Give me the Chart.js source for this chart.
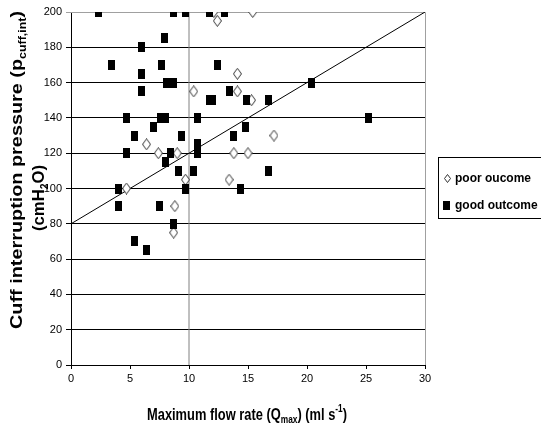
<!DOCTYPE html>
<html>
<head>
<meta charset="utf-8">
<script src="https://cdn.jsdelivr.net/npm/chart.js@4.4.1/dist/chart.umd.min.js"></script>
<style>
html,body{margin:0;padding:0;background:#fff;}
</style>
</head>
<body>
<canvas id="myCanvas" width="541" height="432"></canvas>
<script>
'use strict';

// good outcome (filled squares)
const goodX = [2.3, 8.7, 9.7, 11.7, 13.0, 7.9, 6.0, 3.4, 7.7, 12.4, 6.0, 8.1, 8.7, 20.4, 6.0, 13.4,
	11.7, 12.0, 14.9, 16.7, 4.7, 7.6, 8.0, 10.7, 25.2, 7.0, 14.8, 5.4, 9.4, 13.8, 10.7, 4.7,
	8.4, 10.7, 8.0, 9.1, 10.4, 16.7, 4.0, 9.7, 14.4, 4.0, 7.5, 8.7, 5.4, 6.4];
const goodY = [200, 200, 200, 200, 200, 185, 180, 170, 170, 170, 165, 160, 160, 160, 155, 155,
	150, 150, 150, 150, 140, 140, 140, 140, 140, 135, 135, 130, 130, 130, 125, 120,
	120, 120, 115, 110, 110, 110, 100, 100, 100, 90, 90, 80, 70, 65];

// poor outcome (open diamonds)
const poorX = [12.1, 15.4, 12.4, 14.1, 10.4, 14.1, 15.3, 6.4, 7.4, 9.0, 13.8, 15.0, 17.2, 9.7, 13.4, 4.7, 8.8, 8.7];
const poorY = [200, 200, 195, 165, 155, 155, 150, 125, 120, 120, 120, 120, 130, 105, 105, 100, 90, 75];

const trendX = [0, 30];
const trendY = [80, 200];
const refX = [10, 10];
const refY = [0, 200];

const xTicks = [0, 5, 10, 15, 20, 25, 30];
const yTicks = [0, 20, 40, 60, 80, 100, 120, 140, 160, 180, 200];
const legendLabels = ['poor oucome', 'good outcome'];

function pts(xs, ys){
	return xs.map(function(x, i){ return {x: x, y: ys[i]}; });
}

function makeSquare(w, h){
	let c = document.createElement('canvas');
	c.width = w; c.height = h;
	let g = c.getContext('2d');
	g.fillStyle = '#000';
	g.fillRect(0, 0, w, h);
	return c;
}

function makeDiamond(w, h){
	let c = document.createElement('canvas');
	c.width = w; c.height = h;
	let g = c.getContext('2d');
	g.beginPath();
	g.moveTo(w/2, 0.5);
	g.lineTo(w-0.5, h/2);
	g.lineTo(w/2, h-0.5);
	g.lineTo(0.5, h/2);
	g.closePath();
	g.fillStyle = '#fff';
	g.fill();
	g.strokeStyle = '#333';
	g.lineWidth = 1;
	g.stroke();
	return c;
}

const sq = makeSquare(7, 10);
const dia = makeDiamond(9, 12);

// text with sub/superscripts, stretched to a given width
function richText(ctx, parts, size, family, target){
	let w = 0;
	parts.forEach(function(p){
		ctx.font = 'bold ' + (p.s ? Math.round(size*0.65) : size) + 'px ' + family;
		p.w = ctx.measureText(p.t).width;
		w += p.w;
	});
	let k = target / w;
	ctx.save();
	ctx.scale(k, 1);
	let x = -w/2;
	ctx.textBaseline = 'middle';
	ctx.textAlign = 'left';
	parts.forEach(function(p){
		ctx.font = 'bold ' + (p.s ? Math.round(size*0.65) : size) + 'px ' + family;
		let dy = p.s === 'sub' ? size*0.3 : (p.s === 'sup' ? -size*0.35 : 0);
		ctx.fillText(p.t, x, dy);
		x += p.w;
	});
	ctx.restore();
}

const extras = {
	id: 'extras',
	beforeDatasetsDraw: function(chart){
		let ctx = chart.ctx, a = chart.chartArea;
		ctx.save();
		ctx.strokeStyle = '#a0a0a0';
		ctx.lineWidth = 1;
		ctx.beginPath();
		ctx.moveTo(a.left, Math.round(a.top) + 0.5);
		ctx.lineTo(Math.round(a.right) + 0.5, Math.round(a.top) + 0.5);
		ctx.lineTo(Math.round(a.right) + 0.5, a.bottom);
		ctx.stroke();
		ctx.restore();
	},
	afterDraw: function(chart){
		let ctx = chart.ctx;
		ctx.save();
		ctx.fillStyle = '#000';
		// y title
		ctx.save();
		ctx.translate(18, 170);
		ctx.rotate(-Math.PI/2);
		richText(ctx, [{t: 'Cuff interruption pressure (p'}, {t: 'cuff,int', s: 'sub'}, {t: ')'}], 16, '"Liberation Sans", Arial, sans-serif', 318);
		ctx.restore();
		ctx.save();
		ctx.translate(40, 198);
		ctx.rotate(-Math.PI/2);
		richText(ctx, [{t: '(cmH'}, {t: '2', s: 'sub'}, {t: 'O)'}], 16, '"Liberation Sans", Arial, sans-serif', 66);
		ctx.restore();
		// x title
		ctx.save();
		ctx.translate(247, 415);
		richText(ctx, [{t: 'Maximum flow rate (Q'}, {t: 'max', s: 'sub'}, {t: ') (ml s'}, {t: '-1', s: 'sup'}, {t: ')'}], 17, '"Liberation Sans Narrow", "Arial Narrow", "Liberation Sans", sans-serif', 200);
		ctx.restore();
		// legend
		ctx.strokeStyle = '#000';
		ctx.lineWidth = 1;
		ctx.strokeRect(438.5, 157.5, 110, 61);
		let d = makeDiamond(7, 9);
		ctx.drawImage(d, 444, 174);
		ctx.fillRect(443, 201, 7, 9);
		ctx.font = 'bold 12px "Liberation Sans", Arial, sans-serif';
		ctx.textBaseline = 'middle';
		ctx.textAlign = 'left';
		ctx.fillText(legendLabels[0], 455, 179);
		ctx.fillText(legendLabels[1], 455, 206);
		ctx.restore();
	}
};

let tickFont = {family: '"Liberation Sans Narrow", "Arial Narrow", "Liberation Sans", sans-serif', size: 11};

let myChart = document.getElementById('myCanvas').getContext('2d');
let myScatter = new Chart(myChart, {
	type: 'scatter',
	data: {
		datasets: [{
			label: legendLabels[1],
			data: pts(goodX, goodY),
			pointStyle: sq,
			pointRadius: 5,
			order: 0
		}, {
			label: legendLabels[0],
			data: pts(poorX, poorY),
			pointStyle: dia,
			pointRadius: 5,
			order: 1
		}, {
			label: 'trend',
			data: pts(trendX, trendY),
			showLine: true,
			borderColor: '#000',
			borderWidth: 1,
			pointRadius: 0,
			order: 2
		}, {
			label: 'ref',
			data: pts(refX, refY),
			showLine: true,
			borderColor: '#808080',
			borderWidth: 1,
			pointRadius: 0,
			order: 3
		}]
	},
	plugins: [extras],
	options: {
		responsive: false,
		animation: false,
		events: [],
		layout: {padding: {top: 12, right: 116, left: 0, bottom: 0}},
		plugins: {legend: {display: false}, tooltip: {enabled: false}},
		scales: {
			x: {
				type: 'linear', min: 0, max: 30,
				afterBuildTicks: function(s){ s.ticks = xTicks.map(function(v){ return {value: v}; }); },
				afterFit: function(s){ s.height = 67; },
				ticks: {color: '#000', font: tickFont, padding: 3, maxRotation: 0},
				grid: {drawOnChartArea: false, drawTicks: true, tickLength: 4, color: '#000'},
				border: {color: '#000'}
			},
			y: {
				min: 0, max: 200,
				afterBuildTicks: function(s){ s.ticks = yTicks.map(function(v){ return {value: v}; }); },
				afterFit: function(s){ s.width = 71; },
				ticks: {color: '#000', font: tickFont, padding: 4},
				grid: {tickLength: 5, color: function(c){ return c.tick && c.tick.value === 200 ? '#a0a0a0' : '#000'; }},
				border: {color: '#000'}
			}
		}
	}
});
</script>
</body>
</html>
